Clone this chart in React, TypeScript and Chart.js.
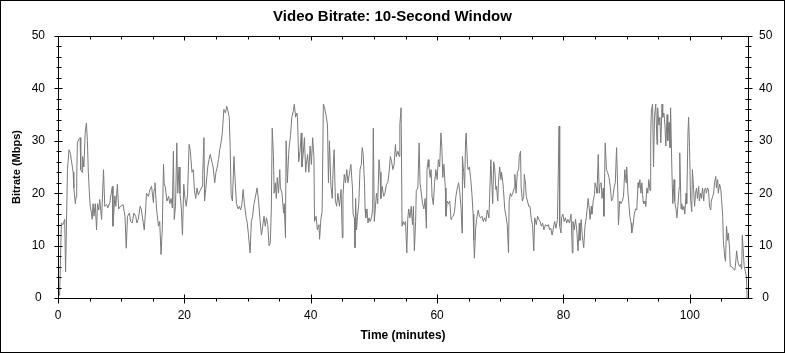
import React, { useEffect, useRef } from "react";
import { Chart, registerables } from "chart.js";

Chart.register(...registerables);

// ---- Data (time in minutes, bitrate in Mbps) ----
const timeMin: number[] = [
  // 0 - 15
  0, 0.26, 0.53, 0.8, 1.06, 1.2, 1.5, 1.75, 2.0, 2.1,
  2.4, 2.5, 2.75, 2.85, 2.96, 3.07, 3.28, 3.5, 3.6, 3.8,
  3.9, 4.1, 4.3, 4.5, 4.65, 4.8, 4.97, 5.1, 5.3, 5.4,
  5.55, 5.7, 5.9, 6.1, 6.25, 6.45, 6.6, 6.9, 7.2, 7.4,
  7.7, 7.9, 8.2, 8.6, 8.7, 9.0, 9.15, 9.4, 9.6, 9.9,
  10.3, 10.6, 10.8, 11.0, 11.3, 11.5, 11.75, 12.0, 12.3, 12.5,
  12.7, 13.0, 13.2, 13.65, 13.9, 14.0, 14.3, 14.55, 14.8, 15.1,
  15.2,
  // 15 - 31
  15.35, 15.6, 15.9, 16.1, 16.3, 16.5, 16.7, 16.8, 17.0, 17.25,
  17.5, 17.7, 17.9, 18.1, 18.26, 18.4, 18.6, 18.8, 18.95, 19.15,
  19.3, 19.5, 19.7, 19.9, 20.1, 20.3, 20.5, 20.75, 20.95, 21.2,
  21.4, 21.6, 21.8, 22.0, 22.2, 22.5, 22.8, 22.9, 23.1, 23.2,
  23.4, 23.55, 23.7, 23.9, 24.1, 24.35, 24.55, 24.8, 25.0, 25.2,
  25.4, 25.6, 25.8, 26.0, 26.25, 26.5, 26.7, 26.9, 27.1, 27.25,
  27.4, 27.6, 27.85, 28.05, 28.25, 28.5, 28.7, 28.9, 29.1, 29.3,
  29.5, 29.75, 29.95, 30.15, 30.4, 30.6, 30.8, 31.0,
  // 31 - 47
  31.2, 31.5, 31.75, 31.96, 32.2, 32.4, 32.6, 32.8, 33.0, 33.2,
  33.4, 33.6, 33.76, 33.9, 34.1, 34.2, 34.4, 34.55, 34.7, 34.9,
  35.1, 35.2, 35.45, 35.7, 35.8, 36.0, 36.1, 36.3, 36.5, 36.6,
  36.8, 37.0, 37.25, 37.4, 37.6, 37.8, 37.9, 38.1, 38.3, 38.5,
  38.6, 38.8, 39.0, 39.2, 39.3, 39.5, 39.7, 39.9, 40.1, 40.3,
  40.5, 40.6, 40.85, 41.05, 41.3, 41.4, 41.6, 41.8, 42.0, 42.2,
  42.4, 42.65, 42.8, 42.96, 43.2, 43.4, 43.55, 43.7, 43.9, 44.1,
  44.3, 44.55, 44.8, 45.0, 45.1, 45.3, 45.5, 45.7, 45.9, 46.1,
  46.35, 46.6, 46.7, 46.9, 47.0,
  // 47 - 63
  47.1, 47.25, 47.4, 47.6, 47.8, 48.0, 48.15, 48.3, 48.5, 48.6,
  48.7, 48.9, 49.06, 49.2, 49.4, 49.65, 49.8, 49.9, 50.06, 50.2,
  50.4, 50.6, 50.8, 50.96, 51.1, 51.3, 51.55, 51.75, 51.97, 52.2,
  52.4, 52.6, 52.8, 53.0, 53.2, 53.4, 53.55, 53.8, 54.0, 54.1,
  54.3, 54.45, 54.6, 54.8, 55.0, 55.2, 55.35, 55.5, 55.7, 55.9,
  56.1, 56.25, 56.4, 56.6, 56.7, 56.95, 57.15, 57.3, 57.5, 57.7,
  57.9, 58.1, 58.3, 58.4, 58.6, 58.7, 58.9, 59.05, 59.2, 59.4,
  59.6, 59.8, 60.0, 60.2, 60.4, 60.6, 60.75, 60.9, 61.07, 61.3,
  61.4, 61.6, 61.8, 62.0, 62.2, 62.3, 62.55, 62.75, 62.97,
  // 63 - 78
  63.2, 63.4, 63.6, 63.8, 63.95, 64.0, 64.2, 64.35, 64.5, 64.6,
  64.8, 64.9, 65.1, 65.3, 65.5, 65.7, 65.8, 65.9, 66.1, 66.25,
  66.5, 66.7, 66.9, 67.1, 67.3, 67.5, 67.7, 67.95, 68.2, 68.3,
  68.5, 68.6, 68.8, 68.95, 69.1, 69.3, 69.4, 69.6, 69.7, 69.9,
  70.1, 70.2, 70.4, 70.5, 70.7, 70.9, 71.1, 71.3, 71.4, 71.6,
  71.75, 71.97, 72.2, 72.3, 72.5, 72.7, 72.9, 73.0, 73.2, 73.3,
  73.5, 73.7, 73.8, 74.0, 74.1, 74.3, 74.5, 74.7, 74.9, 75.1,
  75.3, 75.45, 75.7, 75.9, 76.1, 76.3, 76.5, 76.7, 76.9, 77.15,
  77.4, 77.6, 77.8, 78.0, 78.2,
  // 78 - 94
  78.6, 78.8, 79.05, 79.3, 79.4, 79.6, 79.7, 79.9, 80.1, 80.3,
  80.5, 80.7, 80.95, 81.2, 81.4, 81.5, 81.7, 81.9, 82.1, 82.3,
  82.5, 82.6, 82.8, 82.96, 83.2, 83.4, 83.6, 83.75, 83.9, 84.1,
  84.2, 84.4, 84.5, 84.7, 84.9, 85.0, 85.2, 85.3, 85.5, 85.65,
  85.8, 85.97, 86.1, 86.3, 86.4, 86.6, 86.8, 86.97, 87.2, 87.4,
  87.6, 87.8, 88.0, 88.2, 88.4, 88.6, 88.7, 88.9, 89.1, 89.3,
  89.5, 89.7, 89.9, 90.0, 90.2, 90.35, 90.5, 90.7, 90.8, 91.0,
  91.2, 91.4, 91.6, 91.8, 91.9, 92.1, 92.25, 92.4, 92.6, 92.7,
  92.9, 93.0, 93.2, 93.35, 93.5, 93.7, 93.8,
  // 94 - end
  93.9, 94.1, 94.25, 94.4, 94.6, 94.8, 94.9, 95.1, 95.25, 95.4,
  95.6, 95.7, 95.9, 96.05, 96.2, 96.4, 96.5, 96.7, 96.85, 96.95,
  97.15, 97.3, 97.5, 97.6, 97.8, 97.95, 98.1, 98.3, 98.4, 98.6,
  98.7, 98.9, 99.05, 99.2, 99.4, 99.5, 99.7, 99.8, 99.95, 100.1,
  100.3, 100.4, 100.6, 100.75, 100.9, 101.05, 101.2, 101.4, 101.5, 101.7,
  101.85, 102.0, 102.2, 102.3, 102.5, 102.6, 102.8, 102.95, 103.1, 103.3,
  103.4, 103.6, 103.75, 103.9, 104.1, 104.2, 104.4, 104.5, 104.7, 104.9,
  105.0, 105.2, 105.3, 105.5, 105.65, 105.8, 106.0, 106.1, 106.3, 106.4,
  106.6, 106.8, 106.9, 107.1, 107.2, 107.4, 107.55, 107.7, 107.9, 108.0,
  108.2, 108.3, 108.5, 108.6, 108.8, 108.95, 109.05,
];

const bitrateMbps: number[] = [
  // 0 - 15
  1.6, 0.5, 14.3, 14, 15, 5, 24.5, 28.3, 27.4, 26.4,
  24, 21, 18, 19.3, 23, 29.6, 30.3, 30.6, 24.5, 24,
  27, 25, 31.5, 33.4, 30, 24, 20, 17.5, 16.2, 15,
  18, 15.6, 18, 13, 18, 16.8, 18.8, 15, 24.5, 17.5,
  17.8, 17.2, 18.2, 21.3, 13.7, 19.5, 17.5, 21.7, 17, 17.5,
  17.8, 15.6, 9.5, 15.6, 16.2, 14.6, 14.3, 16.2, 15.6, 14.3,
  15, 17.5, 16.8, 13, 17.5, 20, 19.4, 20.7, 21.3, 18.2,
  20.7,
  // 15 - 31
  22, 17, 13.7, 14.6, 8.3, 13, 25.5, 22, 21, 18.5,
  19.4, 18, 19, 17.2, 28, 15, 17.5, 29.6, 20, 25,
  20, 17.5, 12, 21.7, 19, 17.5, 19.7, 29.3, 28, 24,
  24.5, 20.5, 19, 21, 19.7, 20.5, 21.3, 23.6, 30.6, 18.5,
  21, 23, 25, 26.4, 27.4, 26, 25, 22, 24, 25,
  26.4, 28.3, 29.6, 31.5, 36, 35.3, 36.6, 35.7, 34.5, 28.7,
  19.7, 18.5, 27, 22, 18, 17, 17.5, 16.8, 17.8, 20.7,
  18, 15.6, 14.3, 12, 8.6, 14.6, 15.6, 17.8,
  // 31 - 47
  19, 21, 18.5, 15, 12, 13.7, 15.6, 13.7, 15.3, 14,
  10, 10.5, 17, 32.4, 27, 20, 22, 19, 23, 20,
  24.5, 21, 20, 16.2, 18, 11.5, 30, 22, 27.4, 29,
  31, 34.5, 35.7, 37, 34.5, 35.3, 34.5, 26, 28, 31.5,
  25, 27.4, 30.6, 24, 25.5, 27.4, 24, 29, 25.5, 30.6,
  27, 14.6, 15.6, 13, 14, 11.2, 15, 16.5, 37, 36.3,
  35, 33, 22, 30, 21.3, 19, 25, 28.3, 18.5, 17.5,
  20, 17.5, 20.7, 11.5, 19.5, 23.6, 22, 24.5, 22, 23.6,
  25.5, 21, 16, 15.3, 9.6,
  // 47 - 63
  19, 13, 15.6, 18, 24.5, 25.5, 28.7, 27.4, 22, 17,
  15.3, 17, 14.3, 15.3, 14.6, 15.6, 17, 32.4, 14.6, 16.8,
  20, 18, 26.4, 24, 19, 21.3, 19.4, 20, 21.7, 22,
  24, 27, 26, 24.5, 25.5, 29.3, 27, 28, 27, 33,
  36.3, 13.7, 14.6, 14, 14.6, 8.6, 15, 17, 15.3, 17.5,
  14, 17.5, 9, 14.6, 20.5, 21, 29.6, 22, 20, 18,
  17, 19, 13.3, 24.5, 26.4, 25, 23, 24.5, 19.4, 17.8,
  22, 24.5, 22.6, 26.4, 25, 31.5, 28.7, 23, 25.5, 21,
  15.6, 18.5, 18, 18.5, 15, 15.3, 15.6, 16.5, 19.4,
  // 63 - 78
  21, 22, 20, 17, 12.4, 27, 24, 21, 30, 31.5,
  25.5, 24.5, 25, 23, 20, 16, 11, 7.6, 13.3, 15,
  16.8, 15.6, 15.3, 15.6, 14.6, 15.3, 14.6, 16.8, 15.3, 19,
  26.4, 23.6, 18, 26, 25, 20.7, 21.3, 18.5, 22, 25,
  22.6, 24, 22, 20.7, 17, 15.6, 14, 8.6, 18.5, 20,
  19.4, 20, 21, 23.6, 20, 24, 24.5, 27, 28, 21,
  18.5, 19.4, 23.6, 21.7, 19.4, 18.5, 17.5, 17.5, 15, 14,
  9, 15.3, 14, 15.6, 15, 14.6, 13.7, 14.3, 13, 14,
  13.7, 14, 13, 13.3, 12,
  // 78 - 94
  14.6, 13.3, 15, 32.8, 13.7, 12.4, 15.3, 16, 14.6, 15.3,
  14.3, 15, 14.3, 16, 8.6, 14.6, 13, 15, 13, 9,
  14.3, 11, 15, 12, 9.6, 13.7, 15.3, 17, 19, 16.8,
  15, 17.5, 16, 18.5, 19.7, 22, 21, 20, 27.4, 20,
  21.7, 22, 19, 21, 15.6, 29.6, 24.5, 24, 23, 21.3,
  18.5, 19, 21, 22, 28.7, 20, 14, 18.5, 18, 18.5,
  19.4, 24.5, 22, 25, 20, 18, 15.6, 14.3, 12.4, 13.7,
  16, 17, 16.8, 22, 21, 22.6, 20, 22, 18.5, 18,
  18.5, 17.5, 21, 20, 22.6, 20.5, 30.6,
  // 94 - end
  35.7, 37, 25, 34.5, 37, 29.3, 36.3, 33, 34.5, 29.6,
  37, 34.5, 35.3, 33, 29, 35, 30, 33.5, 28.7, 36.3,
  24.5, 18, 22.6, 18.5, 17, 15.3, 17.5, 21, 27.7, 17,
  18, 16.8, 17.5, 16, 20, 18, 31.5, 34.5, 28.7, 19,
  16.5, 24.5, 20.5, 17.5, 20, 21, 19, 21.3, 18.5, 20,
  19, 21, 18.5, 20.7, 21, 20, 21, 20.7, 17.5, 16.8,
  18.5, 19.4, 20, 22, 23.2, 21, 22.6, 20, 21.7, 20.7,
  19, 15.6, 11, 8, 7, 13.7, 11, 12.4, 9, 6,
  6, 5.7, 5.5, 5.3, 6, 9, 7.3, 6.4, 6, 6.4,
  5.5, 12, 8, 6, 5, 4, 0,
];

// ---- Axis definitions ----
const xMin = 0;
const xMax = 109.2;
const xLabelStep = 20;
const xMinorStep = 5;
const yMin = 0;
const yMax = 50;
const yLabelStep = 10;
const yMinorStep = 2;

const TITLE = "Video Bitrate: 10-Second Window";
const X_TITLE = "Time (minutes)";
const Y_TITLE = "Bitrate (Mbps)";

const FONT = "Arial, 'Liberation Sans', sans-serif";

const framePlugin = {
  id: "frame",
  afterDraw(chart: any) {
    const ctx: CanvasRenderingContext2D = chart.ctx;
    const { left, right, top, bottom } = chart.chartArea;
    const xs = chart.scales.x;
    const ys = chart.scales.y;
    ctx.save();
    ctx.strokeStyle = "#000";
    ctx.lineWidth = 1;
    ctx.strokeRect(0.5, 0.5, chart.width - 1, chart.height - 1);
    const L = Math.round(left) + 0.5;
    const R = Math.round(right) + 0.5;
    const T = Math.round(top) + 0.5;
    const B = Math.round(bottom) + 0.5;
    ctx.beginPath();
    ctx.rect(L, T, R - L, B - T);
    for (let v = yMin; v <= yMax + 1e-9; v += yMinorStep) {
      const py = Math.round(ys.getPixelForValue(v)) + 0.5;
      const major = Math.abs(v % yLabelStep) < 1e-9;
      ctx.moveTo(L - (major ? 4 : 2), py);
      ctx.lineTo(L + (major ? 4 : 3), py);
      ctx.moveTo(R - (major ? 4 : 3), py);
      ctx.lineTo(R + (major ? 4 : 3), py);
    }
    for (let t = xMin; t <= xMax + 1e-9; t += xMinorStep) {
      const px = Math.round(xs.getPixelForValue(t)) + 0.5;
      const major = Math.abs(t % xLabelStep) < 1e-9;
      ctx.moveTo(px, B - (major ? 4 : 0));
      ctx.lineTo(px, B + (major ? 5 : 3));
      ctx.moveTo(px, T);
      ctx.lineTo(px, T + (major ? 4 : 3));
    }
    ctx.stroke();
    ctx.restore();
  },
};

export default function App() {
  const canvasRef = useRef<HTMLCanvasElement | null>(null);

  useEffect(() => {
    const canvas = canvasRef.current;
    if (!canvas) return;
    const n = Math.min(timeMin.length, bitrateMbps.length);
    const points = [];
    for (let i = 0; i < n; i++) points.push({ x: timeMin[i], y: bitrateMbps[i] });

    const tickFont = { family: FONT, size: 12 };

    const chart = new Chart(canvas, {
      type: "line",
      data: {
        datasets: [
          {
            data: points,
            borderColor: "#7a7a7a",
            borderWidth: 1,
            pointRadius: 0,
            tension: 0,
            fill: false,
          },
        ],
      },
      options: {
        animation: false,
        responsive: false,
        devicePixelRatio: 1,
        layout: { padding: 0 },
        parsing: false as any,
        plugins: {
          legend: { display: false },
          tooltip: { enabled: false },
          title: {
            display: true,
            text: TITLE,
            color: "#000",
            font: { family: FONT, size: 15, weight: "bold" },
            padding: { top: 8, bottom: 10 },
          },
        },
        scales: {
          x: {
            type: "linear",
            position: "bottom",
            min: xMin,
            max: xMax,
            afterFit: (s: any) => {
              s.height = 55;
            },
            grid: { display: false, drawTicks: false },
            border: { display: false },
            ticks: {
              stepSize: xLabelStep,
              includeBounds: false,
              autoSkip: false,
              maxRotation: 0,
              padding: 10,
              color: "#000",
              font: tickFont,
            },
            title: {
              display: true,
              text: X_TITLE,
              color: "#000",
              font: { family: FONT, size: 12, weight: "bold" },
              padding: { top: 0, bottom: 10 },
            },
          },
          y: {
            type: "linear",
            position: "left",
            min: yMin,
            max: yMax,
            afterFit: (s: any) => {
              s.width = 58;
            },
            grid: { display: false, drawTicks: false },
            border: { display: false },
            ticks: {
              stepSize: yLabelStep,
              crossAlign: "center",
              padding: 13,
              color: "#000",
              font: tickFont,
            },
            title: {
              display: true,
              text: Y_TITLE,
              color: "#000",
              font: { family: FONT, size: 11, weight: "bold" },
              padding: { top: 10, bottom: 0 },
            },
          },
          y2: {
            type: "linear",
            position: "right",
            min: yMin,
            max: yMax,
            afterFit: (s: any) => {
              s.width = 37;
            },
            grid: { display: false, drawTicks: false },
            border: { display: false },
            ticks: {
              stepSize: yLabelStep,
              crossAlign: "center",
              padding: 11,
              color: "#000",
              font: tickFont,
            },
          },
        },
      },
      plugins: [framePlugin],
    });
    return () => chart.destroy();
  }, []);

  return (
    <div style={{ position: "fixed", left: 0, top: 0, width: 785, height: 353, background: "#fff" }}>
      <canvas ref={canvasRef} width={785} height={353} style={{ display: "block" }} />
    </div>
  );
}
